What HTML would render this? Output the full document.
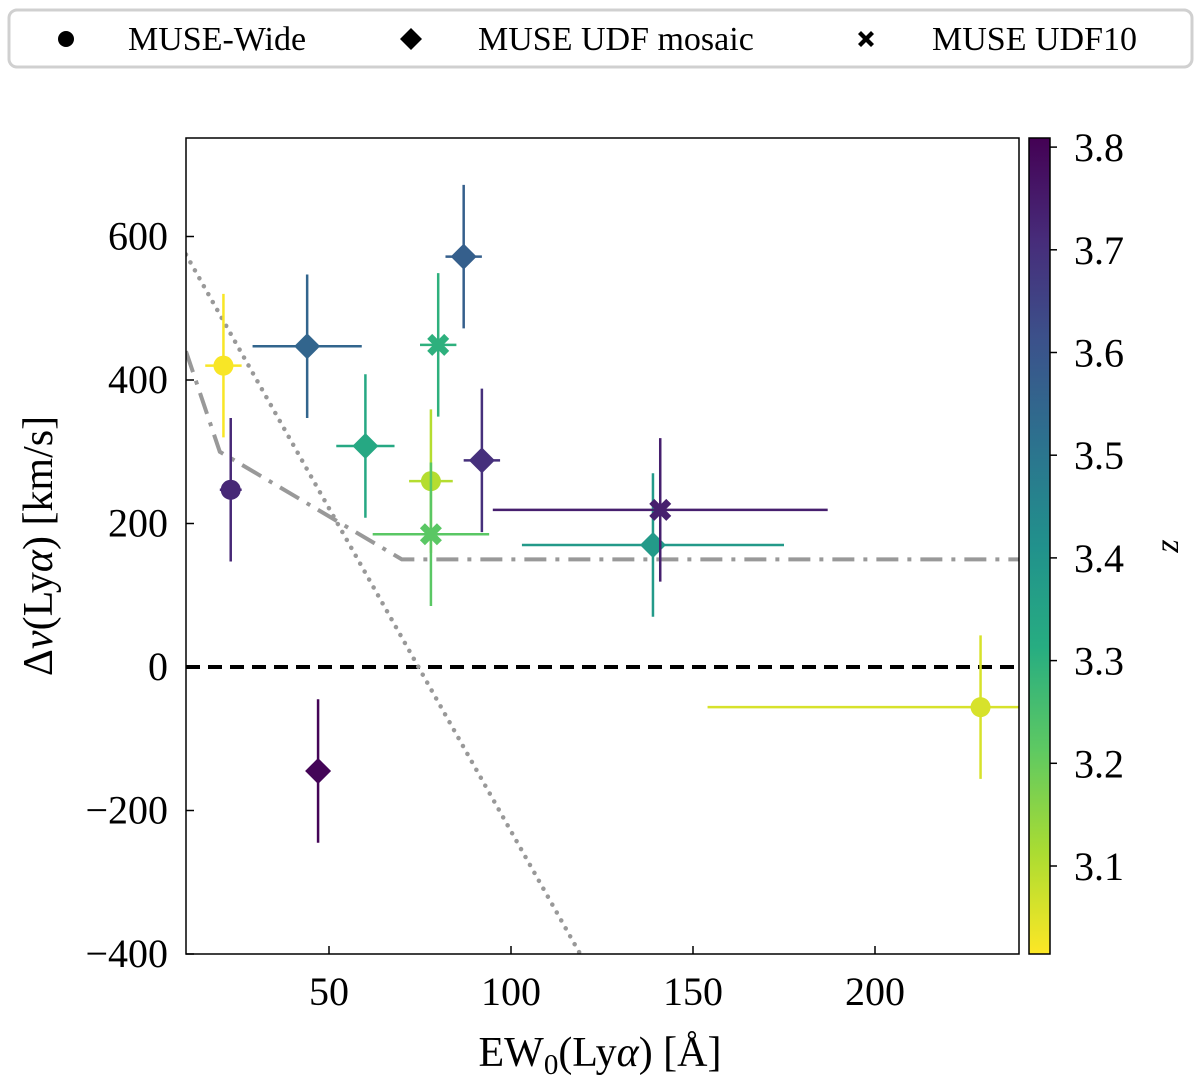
<!DOCTYPE html>
<html><head><meta charset="utf-8"><style>
body{margin:0;background:#fff;}
svg text{font-family:"Liberation Serif",serif;}
</style></head><body>
<svg id="c" width="1200" height="1083" xmlns="http://www.w3.org/2000/svg">
<defs>
<linearGradient id="vir" x1="0" y1="1" x2="0" y2="0">
<stop offset="0" stop-color="#fde725"/><stop offset="0.125" stop-color="#aadc32"/><stop offset="0.25" stop-color="#5ec962"/><stop offset="0.375" stop-color="#27ad81"/><stop offset="0.5" stop-color="#21918c"/><stop offset="0.625" stop-color="#2c728e"/><stop offset="0.75" stop-color="#3b528b"/><stop offset="0.875" stop-color="#472c7a"/><stop offset="1" stop-color="#440154"/>
</linearGradient>
<clipPath id="pc"><rect x="186" y="138" width="833" height="816"/></clipPath>
</defs>
<rect x="9" y="10" width="1183" height="57" rx="8" fill="#fff" stroke="#d0d0d0" stroke-width="3"/>
<g><circle cx="66" cy="39" r="8" fill="#000"/><text x="128" y="50" font-size="34">MUSE-Wide</text></g>
<g><path d="M411 28 L422 39 L411 50 L400 39Z" fill="#000"/><text x="478" y="50" font-size="34">MUSE UDF mosaic</text></g>
<g><path d="M860 33 l5 5 l5 -5 l3 3 l-5 5 l5 5 l-3 3 l-5 -5 l-5 5 l-3 -3 l5 -5 l-5 -5z" fill="#000" transform="translate(1,-2)"/><text x="932" y="50" font-size="34">MUSE UDF10</text></g>
<g id="plot"></g>
<rect x="186" y="138" width="833" height="816" fill="none" stroke="#000" stroke-width="1.5"/>
<rect x="1029" y="138" width="21" height="816" fill="url(#vir)" stroke="#000" stroke-width="1.5"/>
<text x="600" y="1066" font-size="42" text-anchor="middle">EW<tspan font-size="29" dy="8">0</tspan><tspan dy="-8">(Ly</tspan><tspan font-style="italic">α</tspan>) [Å]</text>
<text transform="translate(52,546) rotate(-90)" font-size="42" text-anchor="middle">Δ<tspan font-style="italic">v</tspan>(Ly<tspan font-style="italic">α</tspan>) [km/s]</text>
<text transform="translate(1178,546) rotate(-90)" font-size="34" font-style="italic" text-anchor="middle">z</text>
</svg>
<script>
const xTicks=[50,100,150,200];
const yTicks=[600,400,200,0,-200,-400];
const zTicks=[3.1,3.2,3.3,3.4,3.5,3.6,3.7,3.8];
const wideEW=[21,23,78,229],wideDV=[420,247,259,-56],wideXE=[5,3,6,75],wideYE=[100,100,100,100],wideZ=[3.02,3.72,3.1,3.06];
const mosEW=[44,60,87,92,47,139],mosDV=[447,308,572,288,-145,170],mosXE=[15,8,5,5,2,36],mosYE=[100,100,100,100,100,100],mosZ=[3.55,3.33,3.57,3.7,3.8,3.38];
const u10EW=[80,78,141],u10DV=[449,185,219],u10XE=[5,16,46],u10YE=[100,100,100],u10Z=[3.3,3.22,3.74];
const dashDotEW=[10.7,20,70,240],dashDotDV=[440,300,150,150];
const dottedEW=[10.7,119],dottedDV=[575,-400];
const X=v=>329+(v-50)*3.64, Y=v=>667-v*0.7175, Zp=v=>866-(v-3.1)*1027;
const stops=["#fde725","#aadc32","#5ec962","#27ad81","#21918c","#2c728e","#3b528b","#472c7a","#440154"];
function col(z){let t=Math.max(0,Math.min(1,(z-3.014)/(3.809-3.014)))*8;let i=Math.min(7,Math.floor(t)),f=t-i;
const a=stops[i],b=stops[i+1];const h=(s,k)=>parseInt(s.substr(1+2*k,2),16);
return "rgb("+[0,1,2].map(k=>Math.round(h(a,k)+(h(b,k)-h(a,k))*f)).join(",")+")";}
const NS="http://www.w3.org/2000/svg",svg=document.getElementById('c'),P=document.getElementById('plot');
function el(t,a,p){const e=document.createElementNS(NS,t);for(const k in a)e.setAttribute(k,a[k]);(p||svg).appendChild(e);return e;}
const g=el('g',{'clip-path':'url(#pc)'},P);
el('line',{x1:186,x2:1019,y1:Y(0),y2:Y(0),stroke:'#000','stroke-width':4,'stroke-dasharray':'14,8'},g);
el('polyline',{points:dashDotEW.map((e,i)=>X(e)+','+Y(dashDotDV[i])).join(' '),fill:'none',stroke:'#999','stroke-width':4,'stroke-dasharray':'22,9,4,9'},g);
el('polyline',{points:dottedEW.map((e,i)=>X(e)+','+Y(dottedDV[i])).join(' '),fill:'none',stroke:'#999','stroke-width':4.5,'stroke-dasharray':'0.1,9','stroke-linecap':'round'},g);
function pts(EW,DV,XE,YE,Z,kind){for(let i=0;i<EW.length;i++){const c=col(Z[i]),x=X(EW[i]),y=Y(DV[i]);
const gg=el('g',{},g);
el('line',{x1:X(EW[i]-XE[i]),x2:X(EW[i]+XE[i]),y1:y,y2:y,stroke:c,'stroke-width':2.5},gg);
el('line',{x1:x,x2:x,y1:Y(DV[i]-YE[i]),y2:Y(DV[i]+YE[i]),stroke:c,'stroke-width':2.5},gg);
if(kind==='muse-wide')el('circle',{cx:x,cy:y,r:10,fill:c},gg);
else if(kind==='udf-mosaic')el('path',{d:`M${x} ${y-13}L${x+13} ${y}L${x} ${y+13}L${x-13} ${y}Z`,fill:c},gg);
else el('path',{d:`M${x-6} ${y-11}L${x} ${y-5}L${x+6} ${y-11}L${x+11} ${y-6}L${x+5} ${y}L${x+11} ${y+6}L${x+6} ${y+11}L${x} ${y+5}L${x-6} ${y+11}L${x-11} ${y+6}L${x-5} ${y}L${x-11} ${y-6}Z`,fill:c},gg);
}}
pts(wideEW,wideDV,wideXE,wideYE,wideZ,'muse-wide');
pts(mosEW,mosDV,mosXE,mosYE,mosZ,'udf-mosaic');
pts(u10EW,u10DV,u10XE,u10YE,u10Z,'udf10');
xTicks.forEach(t=>{el('line',{x1:X(t),x2:X(t),y1:954,y2:946,stroke:'#000','stroke-width':1.5});
const e=el('text',{x:X(t),y:1005,'font-size':40,'text-anchor':'middle'});e.textContent=t;});
yTicks.forEach(t=>{el('line',{x1:186,x2:194,y1:Y(t),y2:Y(t),stroke:'#000','stroke-width':1.5});
const e=el('text',{x:168,y:Y(t)+13,'font-size':40,'text-anchor':'end'});e.textContent=t<0?'−'+(-t):t;});
zTicks.forEach(t=>{el('line',{x1:1050,x2:1057,y1:Zp(t),y2:Zp(t),stroke:'#000','stroke-width':1.5});
const e=el('text',{x:1074,y:Zp(t)+14,'font-size':40});e.textContent=t.toFixed(1);});
</script>
</body></html>
